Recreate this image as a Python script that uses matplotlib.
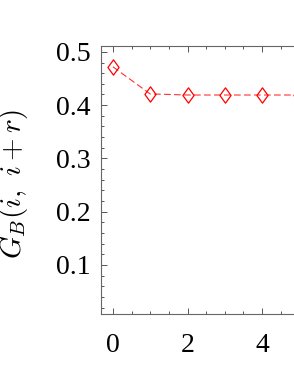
import numpy as np
from matplotlib import pyplot as plt
from matplotlib.path import Path
from matplotlib.ticker import MultipleLocator

plt.rcParams['font.family'] = ['Liberation Serif', 'DejaVu Serif']
plt.rcParams['mathtext.fontset'] = 'cm'

# values
r = [0, 1, 2, 3, 4, 5, 6]
g_b = [0.472, 0.421, 0.419, 0.419, 0.419, 0.419, 0.419]
y_ticks = [0.1, 0.2, 0.3, 0.4, 0.5]
x_ticks = [0, 2, 4]

# diamond a bit wider than matplotlib's thin diamond
diamond = Path([(0, 1), (0.73, 0), (0, -1), (-0.73, 0), (0, 1)],
               [Path.MOVETO, Path.LINETO, Path.LINETO, Path.LINETO, Path.CLOSEPOLY])

fig = plt.figure(figsize=(2.94, 3.81), dpi=100)
# the frame runs past the right edge of the picture, as in the reference crop
ax = fig.add_axes([0.3446, 0.1759, 0.839, 0.7034])

ax.plot(r, g_b, color='#ff3030', linewidth=0.8, dashes=(6, 3),
        marker=diamond, markersize=11, markerfacecolor='none',
        markeredgecolor='#ff0000', markeredgewidth=0.9)

ax.set_xlim(-0.31, 6.3)
ax.set_ylim(0.008, 0.511)

ax.set_xticks(x_ticks)
ax.set_yticks(y_ticks)
ax.xaxis.set_minor_locator(MultipleLocator(0.5))
ax.yaxis.set_minor_locator(MultipleLocator(0.02))
ax.set_yticklabels([f'{v:.1f}' for v in y_ticks])

ax.tick_params(which='both', direction='in', top=True, right=True,
               color='#555555', width=0.7, labelsize=20)
ax.tick_params(which='major', length=4)
ax.tick_params(which='minor', length=2)
ax.tick_params(axis='x', pad=14)
ax.tick_params(axis='y', pad=8)

for s in ax.spines.values():
    s.set_color('#666666')
    s.set_linewidth(0.8)

# ylabel anchor is the bottom of the rotated text, i.e. its right side
ax.set_ylabel(r'$G_B(i,\ i+r)$', fontsize=21)
ax.yaxis.set_label_coords(30 / 294, 1 - 184 / 381, transform=fig.transFigure)

fig.savefig('out.png', dpi=100)
